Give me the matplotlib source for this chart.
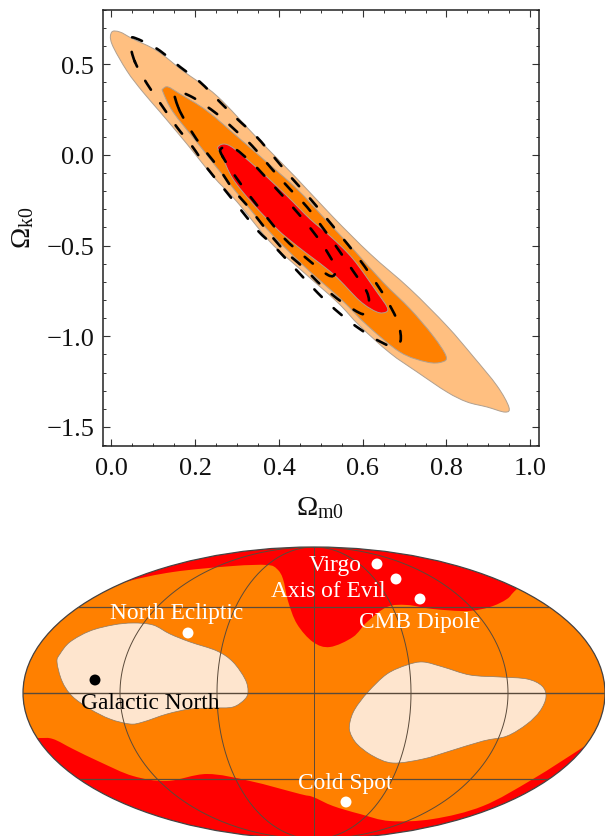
import numpy as np
import matplotlib
matplotlib.use("Agg")
import matplotlib.pyplot as plt
from matplotlib.patches import Ellipse, PathPatch
from matplotlib.path import Path
from matplotlib.ticker import MultipleLocator, FixedLocator

plt.rcParams['font.family'] = ['Liberation Serif', 'DejaVu Serif']
plt.rcParams['mathtext.fontset'] = 'custom'
plt.rcParams['mathtext.rm'] = 'Liberation Serif'
plt.rcParams['mathtext.it'] = 'Liberation Serif'

# --- contour data (Omega_m0, Omega_k0) ---
sigma3_x = [.001,.0005,.020,.051,.109,.171,.252,.350,.439,.529,.618,.713,.801,.863,.921,.949,.940,.897,.849,.801,.730,.665,.593,.539,.450,.379,.300,.242,.180,.116,.075,.037]
sigma3_y = [.612,.677,.678,.640,.574,.463,.325,.088,-.121,-.342,-.546,-.739,-.943,-1.109,-1.274,-1.390,-1.418,-1.390,-1.362,-1.307,-1.197,-1.092,-.943,-.811,-.629,-.480,-.259,-.116,.061,.237,.347,.463]
sigma2_x = [.123,.135,.164,.228,.307,.362,.443,.510,.577,.648,.713,.768,.799,.789,.753,.689,.610,.550,.457,.371,.290,.211,.147,.123]
sigma2_y = [.364,.375,.336,.243,.088,-.022,-.188,-.353,-.519,-.701,-.849,-.998,-1.109,-1.142,-1.142,-1.087,-.938,-.800,-.607,-.408,-.182,.050,.237,.347]
sigma1_x = [.254,.283,.355,.419,.474,.522,.577,.634,.658,.656,.634,.593,.529,.443,.395,.338,.290,.264]
sigma1_y = [.044,.050,-.088,-.226,-.353,-.447,-.574,-.756,-.838,-.866,-.866,-.805,-.656,-.502,-.408,-.270,-.132,-.006]

dash3_x = [.056,.044,.044,.056,.109,.164,.211,.259,.300,.347,.386,.426,.467,.507,.548,.586,.622,.656,.684,.691,.682,.665,.622,.570,.522,.479,.395,.350,.309,.269,.230,.192,.156,.121,.085]
dash3_y = [.513,.612,.640,.645,.585,.485,.403,.292,.199,.099,-.006,-.116,-.221,-.331,-.447,-.557,-.673,-.794,-.921,-1.015,-1.048,-1.054,-1.004,-.921,-.827,-.728,-.519,-.419,-.303,-.188,-.077,.050,.154,.270,.392]
dash2_x = [.159,.152,.192,.252,.300,.336,.383,.426,.467,.503,.541,.577,.610,.615,.605,.593,.550,.503,.457,.414,.374,.331,.290,.254,.211,.180]
dash2_y = [.265,.348,.320,.226,.127,.050,-.077,-.188,-.287,-.397,-.519,-.640,-.756,-.838,-.872,-.872,-.811,-.723,-.618,-.530,-.425,-.298,-.188,-.066,.061,.171]
dash1_x = [.266,.261,.288,.338,.383,.426,.467,.503,.534,.534,.517,.462,.414,.374,.336,.300]
dash1_y = [-.011,.033,.044,-.050,-.160,-.270,-.381,-.491,-.612,-.656,-.662,-.563,-.463,-.353,-.243,-.132]

x_major = [0.0, 0.2, 0.4, 0.6, 0.8, 1.0]
y_major = [-1.5, -1.0, -0.5, 0.0, 0.5]

# --- sky map data (Mollweide plane) ---
orange_x = [-189,-141,-81,-47,-37,-31,-26,-17,-1,16,39,53,73,93,119,153,176,193,203,240,306,306,271,219,169,119,76,46,19,-1,-14,-64,-107,-147,-181,-214,-241,-261,-276,-314,-314,-240]
orange_y = [111,121,127,128,124,114,92,69,51,46,56,71,86,88,84,82,86,94,104,135,135,-30,-53,-86,-113,-126,-128,-121,-113,-104,-101,-88,-81,-88,-83,-69,-56,-46,-45,-45,95,95]
west_x = [-257,-254,-244,-224,-201,-181,-161,-144,-124,-97,-81,-69,-66,-69,-81,-101,-124,-147,-171,-184,-204,-224,-242,-252]
west_y = [31,39,51,62,68,70,68,59,51,42,31,14,2,-6,-14,-15,-16,-21,-29,-31,-26,-16,-3,12]
east_x = [36,41,54,73,93,109,129,156,186,213,228,232,226,213,193,169,136,109,79,59,43,36]
east_y = [-29,-16,1,19,28,31,26,18,16,14,7,-4,-18,-31,-43,-48,-58,-66,-70,-63,-51,-39]

names = ["North Ecliptic", "Galactic North", "Virgo", "Axis of Evil", "CMB Dipole", "Cold Spot"]
point_x = [-126, -219, 63, 82, 106, 32]
point_y = [60, 13, 129, 114, 94, -109]
point_colors = ["white", "black", "white", "white", "white", "white"]
label_x = [-137, -164, 21, 14, 106, 31]
label_y = [80, -10, 128, 102, 71, -90]
meridians = [-120, -60, 0, 60, 120]
parallels = [-45, 0, 45]


def closed_curve(xs, ys):
    """Closed Bezier path through the read vertices."""
    p = np.c_[xs, ys]
    prev, nxt = np.roll(p, 1, axis=0), np.roll(p, -1, axis=0)
    tang = (nxt - prev) / 6.0
    verts, codes = [p[0]], [Path.MOVETO]
    n = len(p)
    for i in range(n):
        j = (i + 1) % n
        verts += [p[i] + tang[i], p[j] - tang[j], p[j]]
        codes += [Path.CURVE4] * 3
    return Path(np.array(verts), codes)


W, H = 605, 837
fig = plt.figure(figsize=(W/100, H/100), dpi=100)

# ---------- top panel ----------
ax = fig.add_axes([102.7/W, 1-447/H, 436.3/W, 436.3/H])
edge = dict(edgecolor='#b0a090', linewidth=0.7, joinstyle='round')
ax.add_patch(PathPatch(closed_curve(sigma3_x, sigma3_y), facecolor='#FFBF80', **edge))
ax.add_patch(PathPatch(closed_curve(sigma2_x, sigma2_y), facecolor='#FF8000', **edge))
ax.add_patch(PathPatch(closed_curve(sigma1_x, sigma1_y), facecolor='#FF0000', **edge))
for dx, dy in [(dash3_x, dash3_y), (dash2_x, dash2_y), (dash1_x, dash1_y)]:
    ax.add_patch(PathPatch(closed_curve(dx, dy), fill=False, edgecolor='black', linewidth=1.9,
                           linestyle=(0, (4.0, 6.2)), capstyle='round'))
ax.set_xlim(-0.021, 1.021)
ax.set_ylim(-1.605, 0.801)
ax.xaxis.set_major_locator(FixedLocator(x_major))
ax.yaxis.set_major_locator(FixedLocator(y_major))
ax.xaxis.set_minor_locator(MultipleLocator(0.05))
ax.yaxis.set_minor_locator(MultipleLocator(0.1))
ax.set_xticklabels([f"{v:.1f}" for v in x_major])
ax.set_yticklabels([f"{v:.1f}".replace("-", "\u2212") for v in y_major])
ax.tick_params(axis='x', pad=8)
ax.tick_params(axis='y', pad=6)
ax.tick_params(which='major', direction='in', top=True, right=True, length=5, width=0.8,
               labelsize=19, color='#333333', labelcolor='#111111')
ax.tick_params(which='minor', direction='in', top=True, right=True, length=2.5, width=0.7, color='#333333')
for s in ax.spines.values():
    s.set_linewidth(1.1)
    s.set_color('#222222')
fig.text(320/W, 1-508/H, r'$\mathrm{\Omega_{m0}}$', fontsize=20.5, ha='center', va='center', color='#111111')
fig.text(23/W, 1-228/H, r'$\mathrm{\Omega_{k0}}$', fontsize=20.5, rotation=90, ha='center', va='center', color='#111111')

# ---------- sky map ----------
a, b = 291, 146
sky = fig.add_axes([23/W, -3/H, 582/W, 292/H])
sky.set_xlim(-a, a)
sky.set_ylim(-b, b)
sky.axis('off')
border = Ellipse((0, 0), 2*a, 2*b, facecolor='#FF0000', edgecolor='none')
sky.add_patch(border)


def clipped(artist):
    artist.set_clip_path(border)
    return artist


clipped(sky.add_patch(PathPatch(closed_curve(orange_x, orange_y), facecolor='#FF8000', edgecolor='none')))
for ix, iy in [(west_x, west_y), (east_x, east_y)]:
    clipped(sky.add_patch(PathPatch(closed_curve(ix, iy), facecolor='#FEE5CE', edgecolor='#8a7a66', linewidth=0.5)))


def moll_theta(lat_deg):
    phi = np.radians(lat_deg)
    th = phi
    for _ in range(30):
        th -= (2*th + np.sin(2*th) - np.pi*np.sin(phi)) / (2 + 2*np.cos(2*th))
    return th


grid_col = '#5a4a3a'
t = np.linspace(-np.pi/2, np.pi/2, 200)
for lon in meridians:
    clipped(sky.plot(a*lon/180*np.cos(t), b*np.sin(t), color=grid_col, lw=0.7)[0])
for lat in parallels:
    yy = b*np.sin(moll_theta(lat))
    clipped(sky.plot([-a, a], [yy, yy], color=grid_col, lw=0.9 if lat else 1.0)[0])
sky.add_patch(Ellipse((0, 0), 2*a, 2*b, facecolor='none', edgecolor='#444444', linewidth=0.9, clip_on=False))

sky.scatter(point_x, point_y, s=62, c=point_colors, linewidths=0, zorder=5)
for name, lx, ly, c in zip(names, label_x, label_y, point_colors):
    sky.text(lx, ly, name, color=c, fontsize=16.8, ha='center', va='center', zorder=6)

fig.savefig('out.png', dpi=100)
